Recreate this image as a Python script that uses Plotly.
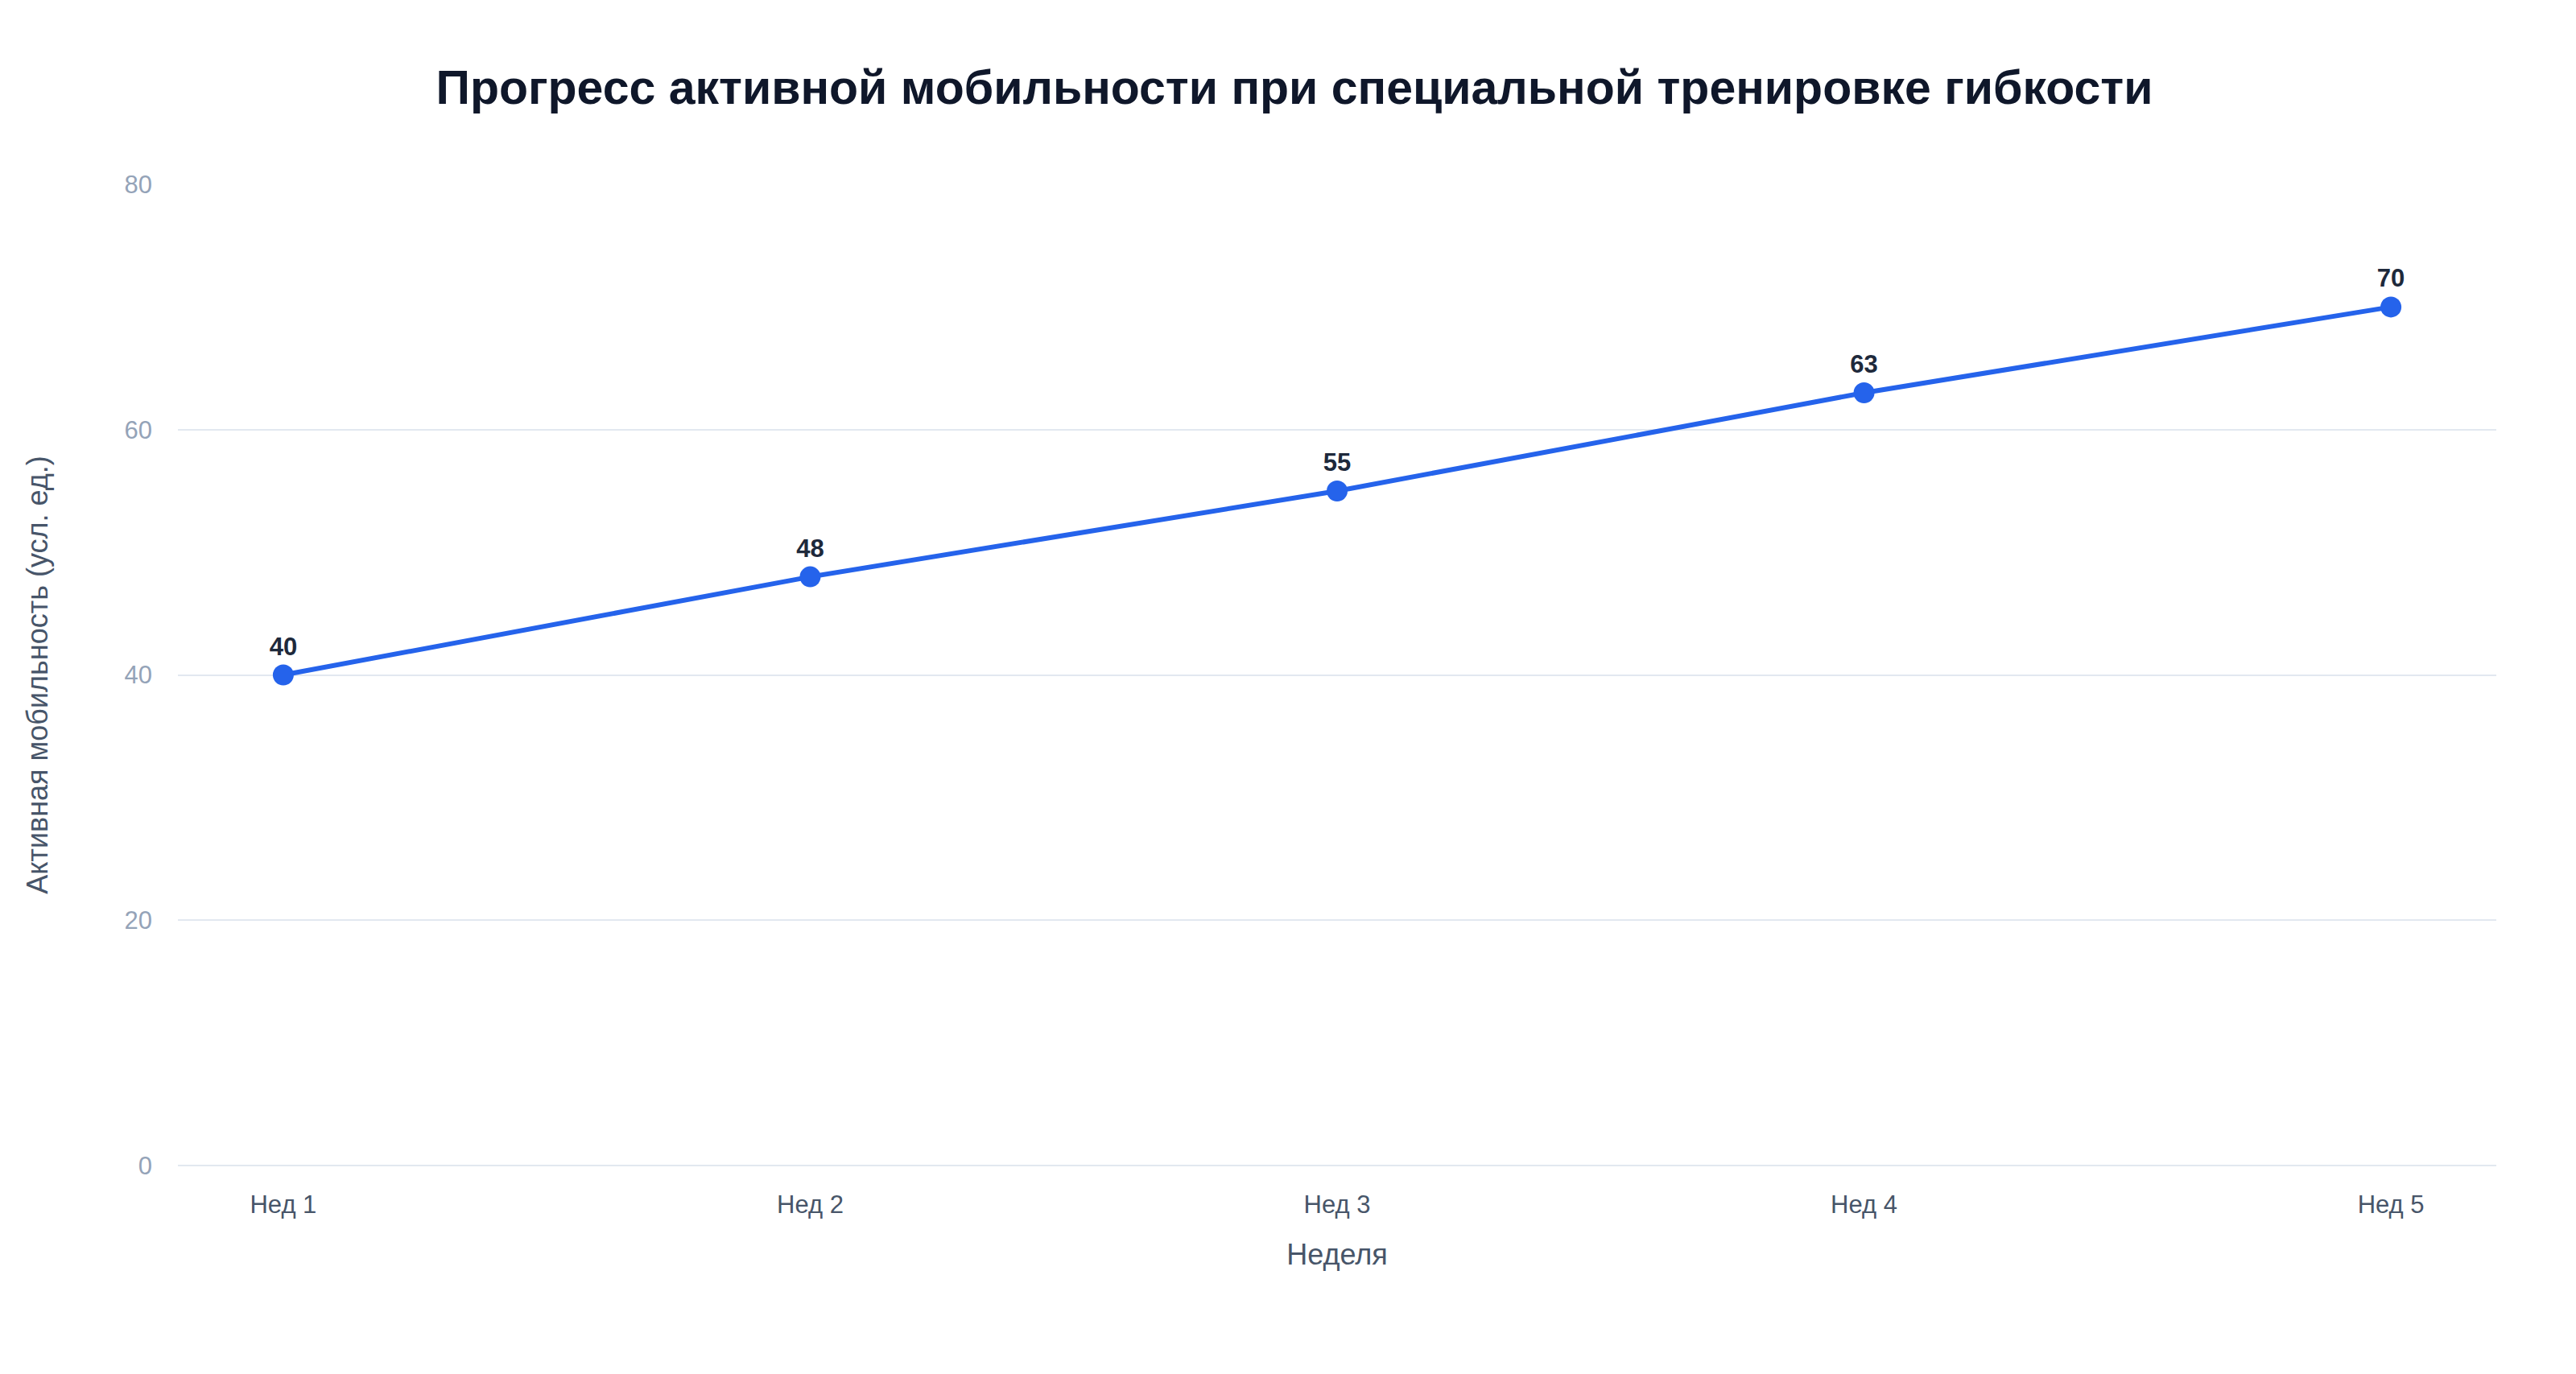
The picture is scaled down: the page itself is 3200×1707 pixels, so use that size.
import plotly.graph_objects as go

weeks = ["Нед 1", "Нед 2", "Нед 3", "Нед 4", "Нед 5"]
mobility = [40, 48, 55, 63, 70]

y_ticks = [0, 20, 40, 60, 80]

fig = go.Figure()
fig.add_trace(
    go.Scatter(
        x=weeks,
        y=mobility,
        mode="lines+markers+text",
        text=[f"<b>{v}</b>" for v in mobility],
        textposition="top center",
        textfont={"size": 31, "color": "#1e293b", "family": "Liberation Sans, Arial"},
        line={"color": "#2563eb", "width": 6},
        marker={"color": "#2563eb", "size": 26},
        showlegend=False,
        cliponaxis=False,
    )
)

fig.update_layout(
    width=3200,
    height=1707,
    title={
        "text": "<b>Прогресс активной мобильности при специальной тренировке гибкости</b>",
        "x": 0.5,
        "xanchor": "center",
        "y": 0.941,
        "yanchor": "middle",
        "font": {"size": 59, "color": "#0f172a"},
    },
    font={"family": "Liberation Sans, Arial", "size": 30},
    plot_bgcolor="white",
    paper_bgcolor="white",
    margin={"l": 213, "r": 107, "t": 221, "b": 267},
    xaxis={
        "title": {"text": "Неделя", "font": {"size": 36, "color": "#475569"}, "standoff": 32},
        "tickfont": {"size": 31, "color": "#475569"},
        "range": [-0.2, 4.2],
        "showgrid": False,
        "zeroline": False,
        "showline": False,
        "ticklabelstandoff": 27,
    },
    yaxis={
        "title": {"text": "Активная мобильность (усл. ед.)", "font": {"size": 36, "color": "#475569"}, "standoff": 83},
        "tickfont": {"size": 31, "color": "#94a3b8"},
        "range": [0, 80],
        "tickvals": y_ticks,
        "gridcolor": "#e2e8f0",
        "gridwidth": 2,
        "zeroline": True,
        "zerolinecolor": "#e2e8f0",
        "zerolinewidth": 2,
        "showline": False,
        "ticklabelstandoff": 31,
    },
)

fig.write_html("out.html")
